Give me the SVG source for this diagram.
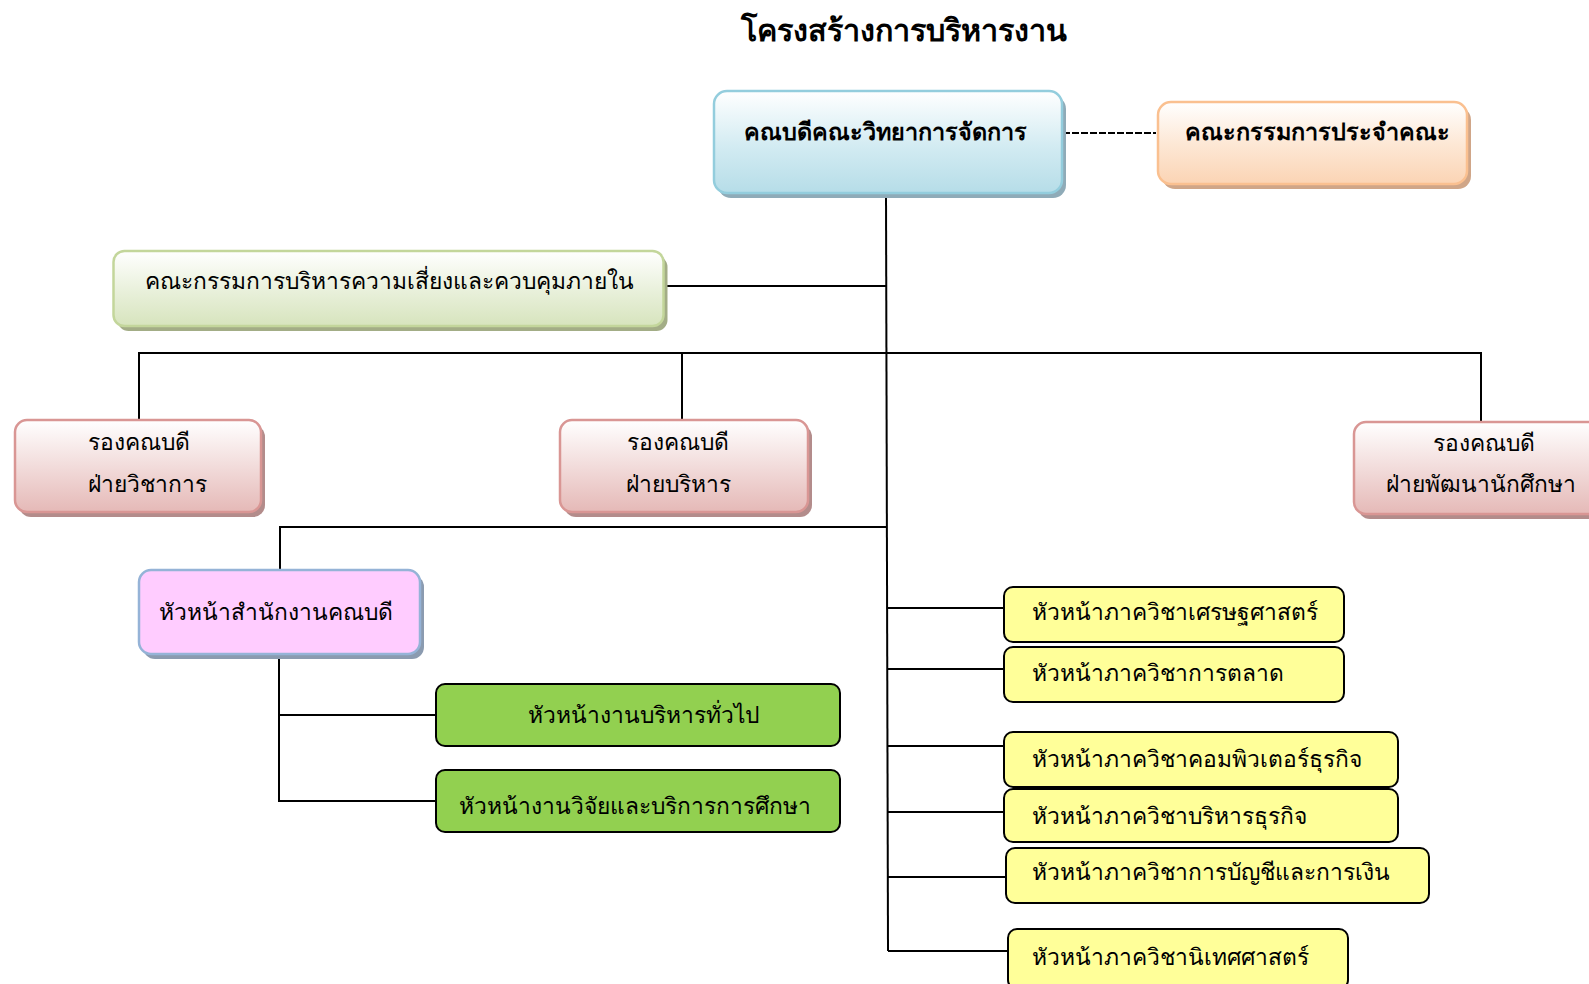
<svg xmlns="http://www.w3.org/2000/svg" width="1589" height="984" viewBox="0 0 1589 984">
<defs>
<linearGradient id="gBlue" x1="0" y1="0" x2="0" y2="1"><stop offset="0" stop-color="#ffffff"/><stop offset="0.55" stop-color="#d2ebf2"/><stop offset="1" stop-color="#b6dde8"/></linearGradient>
<linearGradient id="gOrange" x1="0" y1="0" x2="0" y2="1"><stop offset="0" stop-color="#ffffff"/><stop offset="0.5" stop-color="#fde8d6"/><stop offset="1" stop-color="#fbd4b4"/></linearGradient>
<linearGradient id="gGreen" x1="0" y1="0" x2="0" y2="1"><stop offset="0" stop-color="#ffffff"/><stop offset="0.5" stop-color="#eaf1dd"/><stop offset="1" stop-color="#d7e4bd"/></linearGradient>
<linearGradient id="gPink" x1="0" y1="0" x2="0" y2="1"><stop offset="0" stop-color="#ffffff"/><stop offset="0.5" stop-color="#f2dcdb"/><stop offset="1" stop-color="#e5b9b7"/></linearGradient>
</defs>
<style>
text{font-family:"Noto Sans","DejaVu Sans",sans-serif;fill:#000;}
.t{font-size:22.8px;}
.b{font-size:23.4px;font-weight:bold;}
.title{font-size:30.5px;font-weight:bold;}
.ln{stroke:#000;stroke-width:2;fill:none;}
.y{fill:#ffff99;stroke:#000;stroke-width:2;}
.g{fill:#92d050;stroke:#000;stroke-width:2;}
</style>
<text class="title" x="904" y="41" text-anchor="middle">โครงสร้างการบริหารงาน</text>
<g id="connectors">
<line class="ln" x1="1063" y1="133" x2="1156" y2="133" stroke-dasharray="7,2" stroke-width="1.6"/>
<line class="ln" x1="886" y1="193" x2="888" y2="951"/>
<line class="ln" x1="664" y1="286" x2="886" y2="286"/>
<line class="ln" x1="139" y1="353" x2="1481" y2="353"/>
<line class="ln" x1="139" y1="352" x2="139" y2="420"/>
<line class="ln" x1="682" y1="352" x2="682" y2="420"/>
<line class="ln" x1="1481" y1="352" x2="1481" y2="422"/>
<line class="ln" x1="280" y1="527" x2="887" y2="527"/>
<line class="ln" x1="280" y1="526" x2="280" y2="570"/>
<line class="ln" x1="279" y1="654" x2="279" y2="802"/>
<line class="ln" x1="279" y1="715" x2="436" y2="715"/>
<line class="ln" x1="279" y1="801" x2="436" y2="801"/>
<line class="ln" x1="887" y1="608" x2="1004" y2="608"/>
<line class="ln" x1="887" y1="669" x2="1004" y2="669"/>
<line class="ln" x1="887" y1="746" x2="1004" y2="746"/>
<line class="ln" x1="887" y1="812" x2="1004" y2="812"/>
<line class="ln" x1="888" y1="877" x2="1006" y2="877"/>
<line class="ln" x1="888" y1="951" x2="1008" y2="951"/>
</g>
<g id="dean">
<rect x="718" y="96" width="348" height="102" rx="13" fill="#8fabb8"/>
<rect x="714" y="91" width="348" height="102" rx="13" fill="url(#gBlue)" stroke="#93cddd" stroke-width="2.5"/>
<text class="b" x="885" y="140" text-anchor="middle">คณบดีคณะวิทยาการจัดการ</text>
</g>
<g id="faculty-committee">
<rect x="1162" y="107" width="309" height="82" rx="13" fill="#d0a688"/>
<rect x="1158" y="102" width="309" height="82" rx="13" fill="url(#gOrange)" stroke="#fac090" stroke-width="2.5"/>
<text class="b" x="1317" y="140" text-anchor="middle">คณะกรรมการประจำคณะ</text>
</g>
<g id="risk-committee">
<rect x="117.5" y="256" width="550" height="75" rx="11" fill="#a3ad86"/>
<rect x="113.5" y="251" width="550" height="75" rx="11" fill="url(#gGreen)" stroke="#c3d69b" stroke-width="2.5"/>
<text class="t" x="389" y="289" text-anchor="middle">คณะกรรมการบริหารความเสี่ยงและควบคุมภายใน</text>
</g>
<g id="vp-academic">
<rect x="19" y="425" width="246" height="92" rx="12" fill="#b38c8b"/>
<rect x="15" y="420" width="246" height="92" rx="12" fill="url(#gPink)" stroke="#d99694" stroke-width="2.5"/>
<text class="t" x="139" y="450" text-anchor="middle">รองคณบดี</text>
<text class="t" x="147" y="492" text-anchor="middle">ฝ่ายวิชาการ</text>
</g>
<g id="vp-admin">
<rect x="564" y="425" width="248" height="92" rx="12" fill="#b38c8b"/>
<rect x="560" y="420" width="248" height="92" rx="12" fill="url(#gPink)" stroke="#d99694" stroke-width="2.5"/>
<text class="t" x="678" y="450" text-anchor="middle">รองคณบดี</text>
<text class="t" x="678" y="492" text-anchor="middle">ฝ่ายบริหาร</text>
</g>
<g id="vp-student">
<rect x="1358" y="427" width="262" height="92" rx="12" fill="#b38c8b"/>
<rect x="1354" y="422" width="262" height="92" rx="12" fill="url(#gPink)" stroke="#d99694" stroke-width="2.5"/>
<text class="t" x="1484" y="451" text-anchor="middle">รองคณบดี</text>
<text class="t" x="1481" y="492" text-anchor="middle">ฝ่ายพัฒนานักศึกษา</text>
</g>
<g id="office-head">
<rect x="143" y="575" width="281" height="84" rx="12" fill="#8b9bb0"/>
<rect x="139" y="570" width="281" height="84" rx="12" fill="#ffccff" stroke="#95b3d7" stroke-width="2.5"/>
<text class="t" x="276" y="620" text-anchor="middle">หัวหน้าสำนักงานคณบดี</text>
</g>
<g id="general-admin">
<rect class="g" x="436" y="684" width="404" height="62" rx="9"/>
<text class="t" x="643" y="723" text-anchor="middle">หัวหน้างานบริหารทั่วไป</text>
</g>
<g id="research-service">
<rect class="g" x="436" y="770" width="404" height="62" rx="9"/>
<text class="t" x="635" y="814" text-anchor="middle">หัวหน้างานวิจัยและบริการการศึกษา</text>
</g>
<g id="dept-economics">
<rect class="y" x="1004" y="587" width="340" height="55" rx="9"/>
<text class="t" x="1032" y="620">หัวหน้าภาควิชาเศรษฐศาสตร์</text>
</g>
<g id="dept-marketing">
<rect class="y" x="1004" y="647" width="340" height="55" rx="9"/>
<text class="t" x="1032" y="681">หัวหน้าภาควิชาการตลาด</text>
</g>
<g id="dept-bizcomputer">
<rect class="y" x="1004" y="732" width="394" height="55" rx="9"/>
<text class="t" x="1032" y="767">หัวหน้าภาควิชาคอมพิวเตอร์ธุรกิจ</text>
</g>
<g id="dept-bizadmin">
<rect class="y" x="1004" y="789" width="394" height="53" rx="9"/>
<text class="t" x="1032" y="824">หัวหน้าภาควิชาบริหารธุรกิจ</text>
</g>
<g id="dept-accounting">
<rect class="y" x="1006" y="848" width="423" height="55" rx="9"/>
<text class="t" x="1032" y="880">หัวหน้าภาควิชาการบัญชีและการเงิน</text>
</g>
<g id="dept-commarts">
<rect class="y" x="1008" y="929" width="340" height="60" rx="9"/>
<text class="t" x="1032" y="965">หัวหน้าภาควิชานิเทศศาสตร์</text>
</g>
</svg>
